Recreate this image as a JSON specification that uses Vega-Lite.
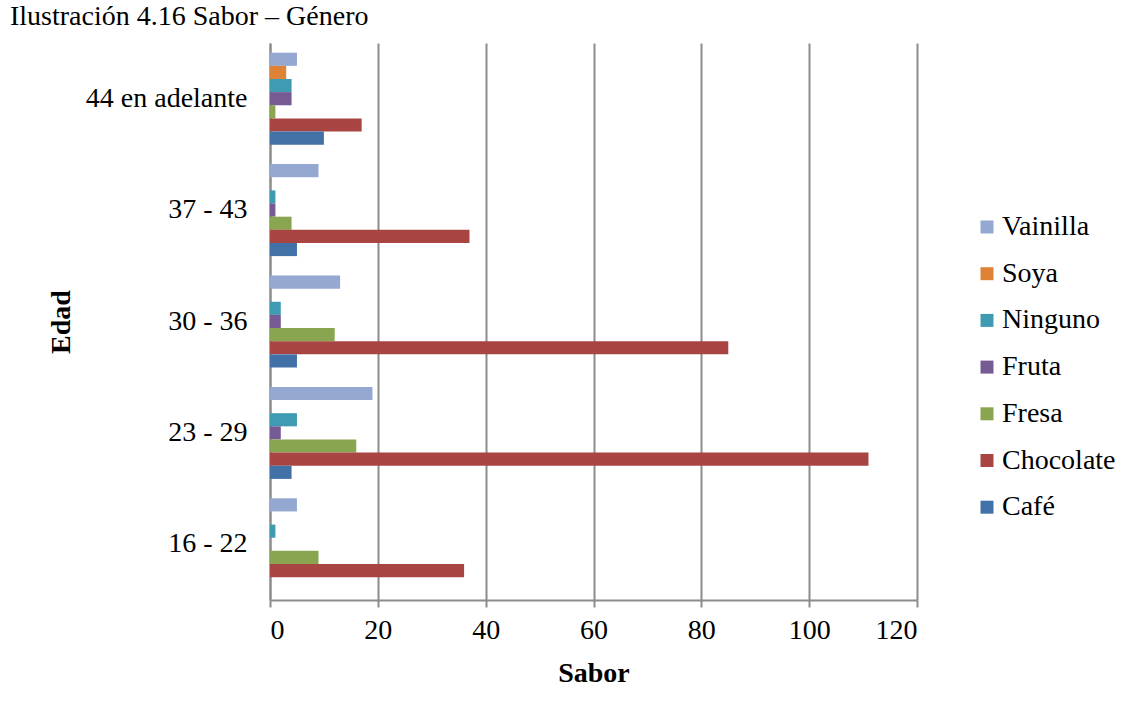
{
  "$schema": "https://vega.github.io/schema/vega-lite/v6.json",
  "autosize": {"type": "none"},
  "width": 647,
  "height": 557,
  "padding": {"left": 270, "top": 43, "right": 211, "bottom": 111},
  "background": "white",
  "title": {
    "text": "Ilustración 4.16 Sabor – Género",
    "anchor": "start",
    "frame": "group",
    "dx": -260,
    "dy": 20,
    "offset": 10,
    "baseline": "alphabetic",
    "font": "Liberation Serif",
    "fontSize": 28,
    "fontWeight": "normal",
    "color": "#000000"
  },
  "data": {
    "values": [
      {"edad": "44 en adelante", "sabor": "Vainilla", "valor": 5},
      {"edad": "44 en adelante", "sabor": "Soya", "valor": 3},
      {"edad": "44 en adelante", "sabor": "Ninguno", "valor": 4},
      {"edad": "44 en adelante", "sabor": "Fruta", "valor": 4},
      {"edad": "44 en adelante", "sabor": "Fresa", "valor": 1},
      {"edad": "44 en adelante", "sabor": "Chocolate", "valor": 17},
      {"edad": "44 en adelante", "sabor": "Café", "valor": 10},
      {"edad": "37 - 43", "sabor": "Vainilla", "valor": 9},
      {"edad": "37 - 43", "sabor": "Soya", "valor": 0},
      {"edad": "37 - 43", "sabor": "Ninguno", "valor": 1},
      {"edad": "37 - 43", "sabor": "Fruta", "valor": 1},
      {"edad": "37 - 43", "sabor": "Fresa", "valor": 4},
      {"edad": "37 - 43", "sabor": "Chocolate", "valor": 37},
      {"edad": "37 - 43", "sabor": "Café", "valor": 5},
      {"edad": "30 - 36", "sabor": "Vainilla", "valor": 13},
      {"edad": "30 - 36", "sabor": "Soya", "valor": 0},
      {"edad": "30 - 36", "sabor": "Ninguno", "valor": 2},
      {"edad": "30 - 36", "sabor": "Fruta", "valor": 2},
      {"edad": "30 - 36", "sabor": "Fresa", "valor": 12},
      {"edad": "30 - 36", "sabor": "Chocolate", "valor": 85},
      {"edad": "30 - 36", "sabor": "Café", "valor": 5},
      {"edad": "23 - 29", "sabor": "Vainilla", "valor": 19},
      {"edad": "23 - 29", "sabor": "Soya", "valor": 0},
      {"edad": "23 - 29", "sabor": "Ninguno", "valor": 5},
      {"edad": "23 - 29", "sabor": "Fruta", "valor": 2},
      {"edad": "23 - 29", "sabor": "Fresa", "valor": 16},
      {"edad": "23 - 29", "sabor": "Chocolate", "valor": 111},
      {"edad": "23 - 29", "sabor": "Café", "valor": 4},
      {"edad": "16 - 22", "sabor": "Vainilla", "valor": 5},
      {"edad": "16 - 22", "sabor": "Soya", "valor": 0},
      {"edad": "16 - 22", "sabor": "Ninguno", "valor": 1},
      {"edad": "16 - 22", "sabor": "Fruta", "valor": 0},
      {"edad": "16 - 22", "sabor": "Fresa", "valor": 9},
      {"edad": "16 - 22", "sabor": "Chocolate", "valor": 36},
      {"edad": "16 - 22", "sabor": "Café", "valor": 0}
    ]
  },
  "mark": {"type": "bar"},
  "encoding": {
    "y": {
      "field": "edad",
      "type": "nominal",
      "sort": ["44 en adelante", "37 - 43", "30 - 36", "23 - 29", "16 - 22"],
      "scale": {"paddingInner": 0.174, "paddingOuter": 0.087},
      "title": "Edad",
      "axis": {
        "ticks": false,
        "labelPadding": 23,
        "labelFont": "Liberation Serif",
        "labelFontSize": 28,
        "labelColor": "#000000",
        "titleFont": "Liberation Serif",
        "titleFontSize": 28,
        "titleFontWeight": "bold",
        "titleColor": "#000000",
        "titlePadding": 10,
        "domainColor": "#8c8c8c",
        "domainWidth": 2,
        "grid": false
      }
    },
    "x": {
      "field": "valor",
      "type": "quantitative",
      "scale": {"domain": [0, 120], "nice": false},
      "title": "Sabor",
      "axis": {
        "values": [0, 20, 40, 60, 80, 100, 120],
        "grid": true,
        "gridColor": "#8c8c8c",
        "gridWidth": 2,
        "domainColor": "#8c8c8c",
        "domainWidth": 2,
        "tickColor": "#8c8c8c",
        "tickWidth": 2,
        "tickSize": 7,
        "labelPadding": 9,
        "labelFont": "Liberation Serif",
        "labelFontSize": 28,
        "labelColor": "#000000",
        "titleFont": "Liberation Serif",
        "titleFontSize": 28,
        "titleFontWeight": "bold",
        "titleColor": "#000000",
        "titlePadding": 15
      }
    },
    "yOffset": {
      "field": "sabor",
      "type": "nominal",
      "sort": ["Vainilla", "Soya", "Ninguno", "Fruta", "Fresa", "Chocolate", "Café"],
      "scale": {"paddingInner": 0, "paddingOuter": 0}
    },
    "color": {
      "field": "sabor",
      "type": "nominal",
      "scale": {
        "domain": ["Vainilla", "Soya", "Ninguno", "Fruta", "Fresa", "Chocolate", "Café"],
        "range": ["#94a8d2", "#dd8237", "#3f9bb2", "#755a94", "#8aa54f", "#a84543", "#4271a8"]
      },
      "legend": {
        "orient": "none",
        "legendX": 703,
        "legendY": 170,
        "title": null,
        "symbolType": "square",
        "symbolSize": 169,
        "symbolStrokeWidth": 0,
        "labelFont": "Liberation Serif",
        "labelFontSize": 28,
        "labelColor": "#000000",
        "labelOffset": 1,
        "rowPadding": 18.7
      }
    }
  },
  "config": {
    "view": {"stroke": null}
  }
}
